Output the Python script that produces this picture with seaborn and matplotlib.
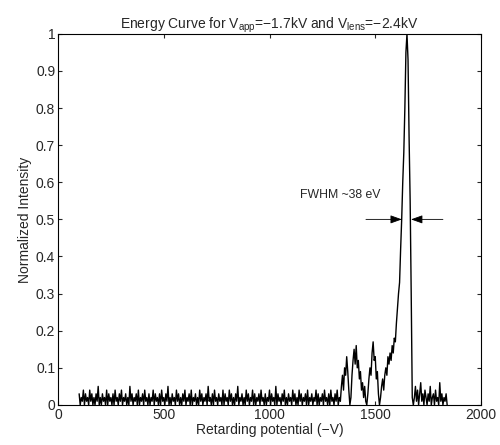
import numpy as np
import pandas as pd
import matplotlib
matplotlib.use("Agg")
import matplotlib.pyplot as plt
import seaborn as sns

# retarding potential grid (V), 5 V steps
potential = np.arange(100, 1845, 5)

# flat noisy background 100-1335 V
baseline = [
    0.03, 0.00, 0.02, 0.01, 0.04, 0.00, 0.03, 0.01, 0.02, 0.00, 0.04, 0.01, 0.03, 0.00, 0.02, 0.00, 0.03, 0.01, 0.05, 0.00,
    0.02, 0.00, 0.03, 0.01, 0.02, 0.00, 0.04, 0.00, 0.03, 0.01, 0.02, 0.00, 0.03, 0.00, 0.04, 0.01, 0.02, 0.00, 0.03, 0.01,
    0.04, 0.00, 0.02, 0.01, 0.03, 0.00, 0.02, 0.00, 0.05, 0.01, 0.03, 0.00, 0.02, 0.01, 0.03, 0.00, 0.04, 0.00, 0.02, 0.01,
    0.03, 0.00, 0.04, 0.01, 0.02, 0.00, 0.03, 0.00, 0.02, 0.01, 0.04, 0.00, 0.03, 0.01, 0.02, 0.00, 0.03, 0.00, 0.04, 0.01,
    0.02, 0.00, 0.03, 0.01, 0.05, 0.00, 0.02, 0.00, 0.03, 0.01, 0.02, 0.00, 0.04, 0.01, 0.03, 0.00, 0.02, 0.00, 0.03, 0.01,
    0.04, 0.00, 0.02, 0.01, 0.03, 0.00, 0.04, 0.00, 0.02, 0.01, 0.03, 0.00, 0.02, 0.00, 0.04, 0.01, 0.03, 0.00, 0.02, 0.01,
    0.03, 0.00, 0.05, 0.01, 0.02, 0.00, 0.03, 0.00, 0.04, 0.01, 0.02, 0.00, 0.03, 0.01, 0.02, 0.00, 0.04, 0.00, 0.03, 0.01,
    0.02, 0.00, 0.04, 0.01, 0.03, 0.00, 0.02, 0.00, 0.03, 0.01, 0.05, 0.00, 0.02, 0.01, 0.03, 0.00, 0.02, 0.00, 0.04, 0.01,
    0.03, 0.00, 0.02, 0.01, 0.04, 0.00, 0.03, 0.00, 0.02, 0.01, 0.03, 0.00, 0.04, 0.01, 0.02, 0.00, 0.03, 0.00, 0.02, 0.01,
    0.04, 0.00, 0.03, 0.01, 0.02, 0.00, 0.05, 0.00, 0.03, 0.01, 0.02, 0.00, 0.03, 0.01, 0.04, 0.00, 0.02, 0.00, 0.03, 0.01,
    0.02, 0.00, 0.04, 0.01, 0.03, 0.00, 0.02, 0.00, 0.04, 0.01, 0.03, 0.00, 0.02, 0.01, 0.03, 0.00, 0.04, 0.00, 0.02, 0.01,
    0.03, 0.00, 0.02, 0.01, 0.04, 0.00, 0.03, 0.00, 0.02, 0.01, 0.03, 0.00, 0.04, 0.01, 0.02, 0.00, 0.03, 0.00, 0.04, 0.01,
    0.02, 0.00, 0.03, 0.01, 0.04, 0.00, 0.02, 0.01,
]
# satellite bumps 1340-1610 V
bumps = [
    0.05, 0.08, 0.04, 0.10, 0.08, 0.13, 0.09, 0.04, 0.00, 0.02, 0.08, 0.12, 0.15, 0.11,
    0.16, 0.10, 0.12, 0.07, 0.09, 0.04, 0.06, 0.02, 0.05, 0.01, 0.00, 0.03, 0.07, 0.10,
    0.08, 0.14, 0.17, 0.12, 0.13, 0.07, 0.09, 0.03, 0.00, 0.02, 0.05, 0.07, 0.04, 0.08,
    0.10, 0.08, 0.13, 0.11, 0.14, 0.12, 0.16, 0.14, 0.18, 0.17, 0.22, 0.26, 0.30,
]
# main peak 1615-1680 V
peak = [0.33, 0.42, 0.50, 0.60, 0.68, 0.80, 0.95, 1.00, 0.93, 0.72, 0.55, 0.30, 0.02, 0.00]
# tail 1685-1840 V
tail = [
    0.02, 0.05, 0.01, 0.04, 0.00, 0.03, 0.06, 0.01, 0.03, 0.00, 0.04, 0.02, 0.00, 0.03, 0.01, 0.05,
    0.00, 0.02, 0.03, 0.00, 0.04, 0.01, 0.02, 0.00, 0.06, 0.01, 0.03, 0.00, 0.02, 0.01, 0.03, 0.00,
]

df = pd.DataFrame({"potential": potential, "intensity": baseline + bumps + peak + tail})

sns.set_style("ticks")
plt.rcParams["font.family"] = ["Liberation Sans", "DejaVu Sans"]
plt.rcParams["mathtext.default"] = "regular"
plt.rcParams["xtick.direction"] = "in"
plt.rcParams["ytick.direction"] = "in"

fig = plt.figure(figsize=(5, 4.45), dpi=100)
ax = fig.add_axes([0.116, 0.09, 0.846, 0.834])
sns.lineplot(data=df, x="potential", y="intensity", color="black", linewidth=1.0, ax=ax)

ax.set_xlim(0, 2000)
ax.set_ylim(0, 1)
ax.set_xticks([0, 500, 1000, 1500, 2000])
ax.set_yticks(np.round(np.arange(0, 1.01, 0.1), 1))
ax.set_yticklabels(["0", "0.1", "0.2", "0.3", "0.4", "0.5", "0.6", "0.7", "0.8", "0.9", "1"])
ax.tick_params(top=True, right=True, labelsize=10, length=3, width=0.8, pad=2)
for s in ax.spines.values():
    s.set_linewidth(0.8)
    s.set_color("black")

ax.set_xlabel("Retarding potential (\u2212V)", fontsize=10, labelpad=1)
ax.set_ylabel("Normalized Intensity", fontsize=10, labelpad=3)
ax.set_title("Energy Curve for V$_{app}$=\u22121.7kV and V$_{lens}$=\u22122.4kV", fontsize=10, pad=4)

# FWHM markers
ax.text(1144, 0.565, "FWHM ~38 eV", fontsize=8.8, va="center")
arrow = dict(arrowstyle="-|>,head_length=0.7,head_width=0.25", color="black", lw=0.6,
             shrinkA=0, shrinkB=0)
ax.annotate("", xy=(1626, 0.5), xytext=(1456, 0.5), arrowprops=arrow)
ax.annotate("", xy=(1669, 0.5), xytext=(1820, 0.5), arrowprops=arrow)

fig.savefig("out.png", dpi=100)
